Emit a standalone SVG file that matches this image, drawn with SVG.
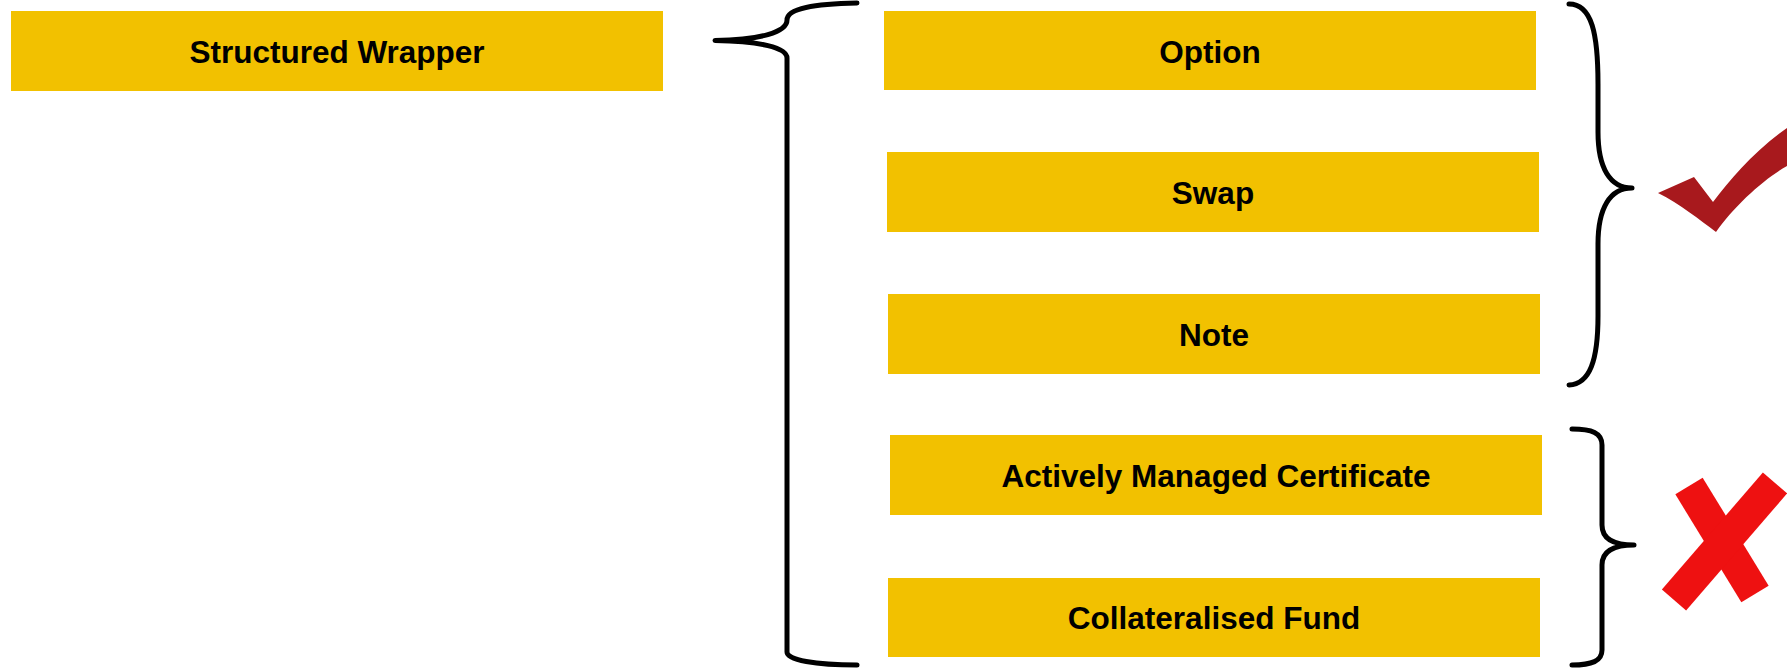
<svg xmlns="http://www.w3.org/2000/svg" width="1787" height="669" viewBox="0 0 1787 669">
  <style>
    .box { fill: #F2C100; }
    .lbl { font-family: "Liberation Sans", Arial, sans-serif; font-weight: bold; font-size: 31.5px; fill: #000; text-anchor: middle; }
    .brace { fill: none; stroke: #000; stroke-width: 5; stroke-linecap: round; stroke-linejoin: round; }
  </style>
  <rect width="1787" height="669" fill="#fff"/>
  <g id="node-structured-wrapper">
    <rect class="box" x="11" y="11" width="652" height="80"/>
    <text class="lbl" x="337" y="63">Structured Wrapper</text>
  </g>
  <g id="node-option">
    <rect class="box" x="884" y="11" width="652" height="79"/>
    <text class="lbl" x="1210" y="63">Option</text>
  </g>
  <g id="node-swap">
    <rect class="box" x="887" y="152" width="652" height="80"/>
    <text class="lbl" x="1213" y="203.5">Swap</text>
  </g>
  <g id="node-note">
    <rect class="box" x="888" y="294" width="652" height="80"/>
    <text class="lbl" x="1214" y="345.5">Note</text>
  </g>
  <g id="node-amc">
    <rect class="box" x="890" y="435" width="652" height="80"/>
    <text class="lbl" x="1216" y="486.5">Actively Managed Certificate</text>
  </g>
  <g id="node-collateralised-fund">
    <rect class="box" x="888" y="578" width="652" height="79"/>
    <text class="lbl" x="1214" y="629">Collateralised Fund</text>
  </g>
  <g id="connectors">
    <path class="brace" d="M857,3 C815,4 787,8 787,20 C787,32 760,40 715,40.5 C760,41 787,48 787,58 L787,652 C787,660 815,665 857,665"/>
    <path class="brace" d="M1569,4 C1592,4 1598,34 1598,84 L1598,132 C1598,168 1610,188 1632,188 C1610,188 1598,208 1598,244 L1598,316 C1598,360 1590,384 1569,385"/>
    <path class="brace" d="M1572,429 C1592,429 1602,433 1602,445 L1602,525 C1602,538 1612,545 1634,545 C1612,545 1602,552 1602,565 L1602,650 C1602,661 1592,665 1572,665"/>
  </g>
  <g id="check-mark">
    <path fill="#A8191D" d="M1658,193 L1694,177 L1713,202 C1730,180 1755,150 1787,128 L1787,166 C1765,178 1735,205 1716,232 C1700,220 1680,204 1658,193 Z"/>
  </g>
  <g id="cross-mark" stroke="#EE1111" stroke-width="32" stroke-linecap="butt">
    <line x1="1689" y1="486" x2="1755" y2="594"/>
    <line x1="1775" y1="483" x2="1674" y2="600"/>
  </g>
</svg>
